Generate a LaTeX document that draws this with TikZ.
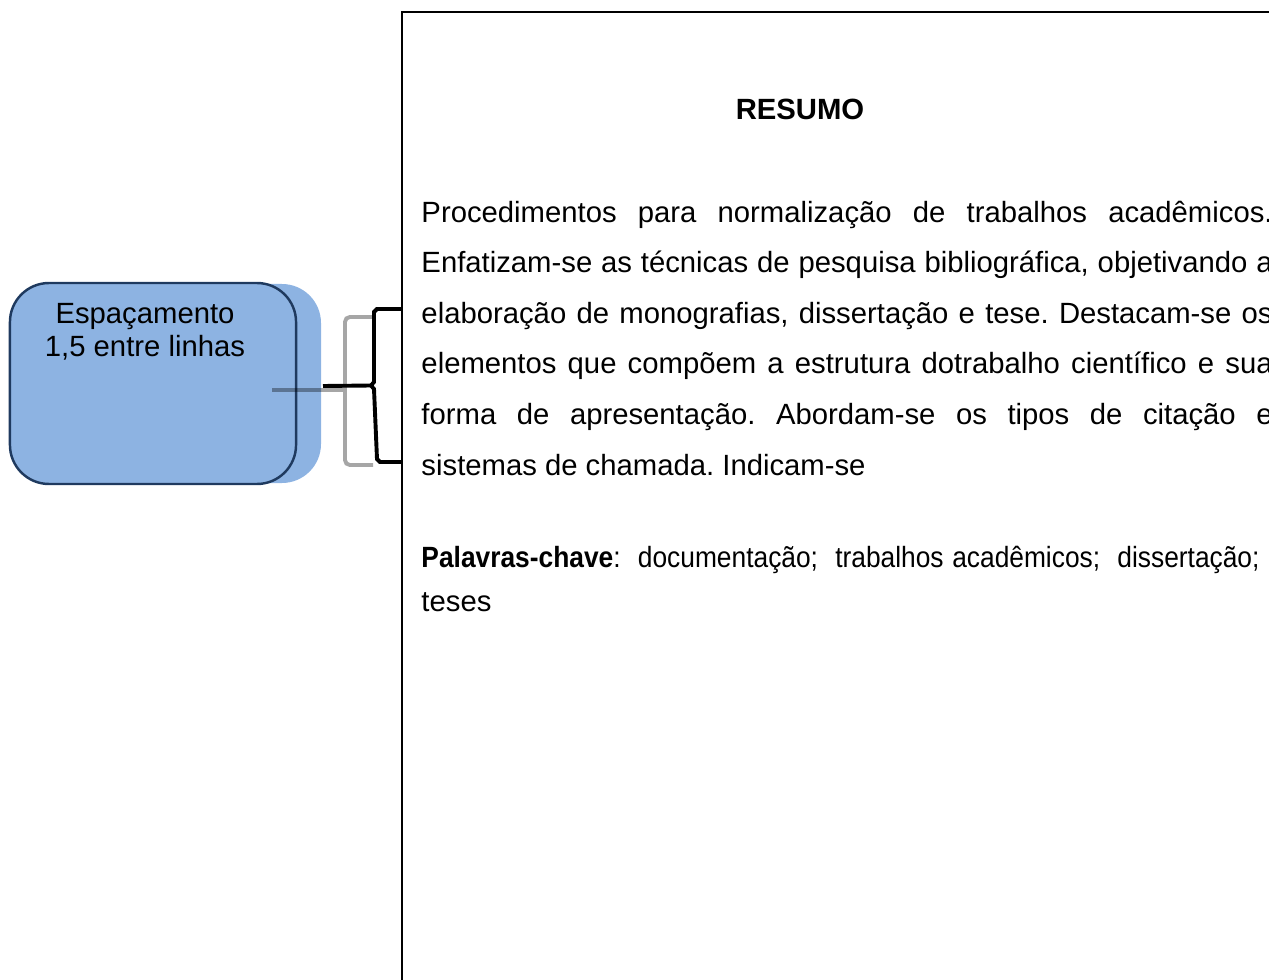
\documentclass[tikz,border=0pt]{standalone}
\usepackage{fontspec}
\setmainfont{Liberation Sans}
\newfontfamily\narrowsans[FakeStretch=0.9]{Liberation Sans}
\frenchspacing
\newlength\bodyw
\setlength\bodyw{349pt}
\newlength\keyw
\setlength\keyw{343.6pt}
\newcommand\jline[1]{\makebox[\bodyw][s]{#1}}
\definecolor{boxblue}{HTML}{8DB3E2}
\definecolor{boxedge}{HTML}{1F3A5F}
\definecolor{bracegray}{HTML}{A6A6A6}
\tikzset{
  txt/.style={anchor=base west, inner sep=0pt, font=\fontsize{12}{14}\selectfont},
  box/.style={draw=boxedge, line width=1pt, fill=boxblue, rounded corners=16pt,
    minimum width=117.3pt, minimum height=82.4pt, inner sep=0pt},
  brace/.style={line width=1.6pt, rounded corners=2pt},
}
\begin{document}
\begin{tikzpicture}[x=0.41pt, y=-0.41pt]
  \useasboundingbox (0,0) rectangle (1269,980);
  \clip (0,0) rectangle (1269,980);
  % page frame
  \draw[line width=0.8pt] (402,980) -- (402,12) -- (1280,12);
  % box with its shadow
  \fill[boxblue, rounded corners=16pt] (32,284) rectangle (321,483);
  \draw
    (153,383.5) node[box] (esp){}
    (145,357) node[txt, anchor=base, align=center] (esptxt){Espaçamento\\[-0.4pt]1,5 entre linhas};
  % braces
  \coordinate (gtip) at (272,390);
  \coordinate (btip) at (323,386);
  \draw[brace, bracegray] (373,317) -- (345,317) -- (345,390) -- (345,465) -- (373,465);
  \draw[brace, black, opacity=0.35] (gtip) -- (343,390);
  \draw[brace, black, rounded corners=0pt] (402,309) -- (377,309) -- (374,312) -- (374,382) -- (371,385.5)
    -- (374,389) -- (377,459) -- (380,462) -- (402,462);
  \draw[brace, black] (371,385.5) -- (btip);
  % text of the page
  \draw
    (800,120) node[txt, anchor=base, font=\fontsize{12}{14}\selectfont\bfseries] (title){RESUMO}
    (421,222.5) node[txt] (l1){\jline{Procedimentos para normalização de trabalhos acadêmicos.}}
    (421,273) node[txt] (l2){\jline{Enfatizam-se as técnicas de pesquisa bibliográfica, objetivando a}}
    (421,323.5) node[txt] (l3){\jline{elaboração de monografias, dissertação e tese. Destacam-se os}}
    (421,374) node[txt] (l4){\jline{elementos que compõem a estrutura dotrabalho científico e sua}}
    (421,424.5) node[txt] (l5){\jline{forma de apresentação. Abordam-se os tipos de citação e}}
    (421,475) node[txt] (l6){sistemas de chamada. Indicam-se}
    (421,567) node[txt] (kw){\narrowsans\makebox[\keyw][s]{\textbf{Palavras-chave}:\ \ documentação;\ \ trabalhos acadêmicos;\ \ dissertação;}}
    (421,611) node[txt] (kw2){teses};
\end{tikzpicture}
\end{document}
